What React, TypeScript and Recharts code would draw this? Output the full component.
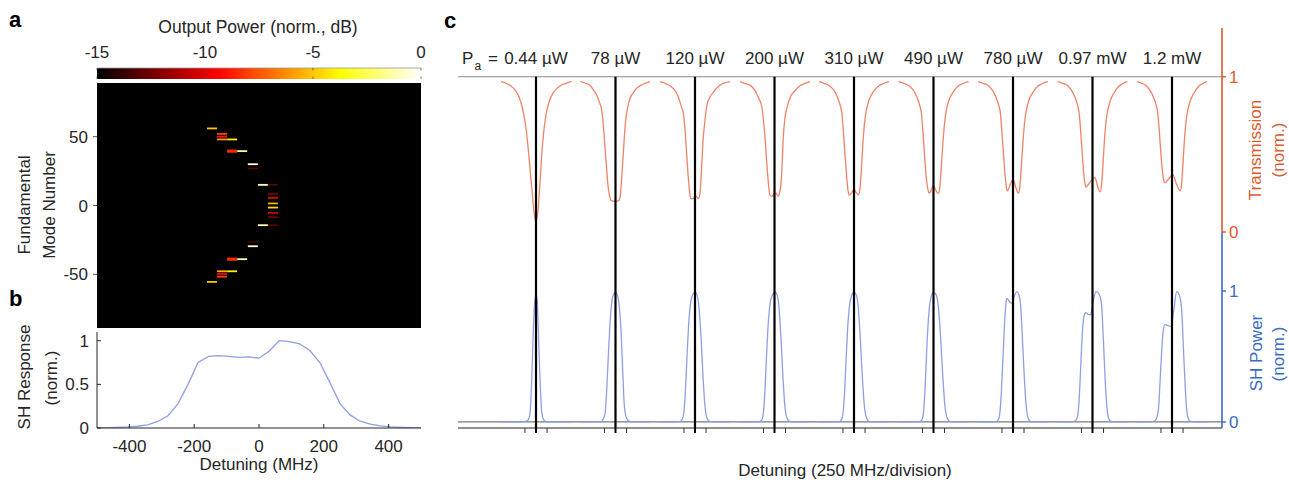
import React from 'react';
import {
  ComposedChart,
  ScatterChart,
  Scatter,
  Line,
  Area,
  XAxis,
  YAxis,
  ReferenceLine,
  CartesianGrid,
} from 'recharts';

type Pair = [number, number];

const FONT = '"Liberation Sans", Arial, Helvetica, sans-serif';
const FS = 17;
const AX = '#262626';
const RED = '#dd5a2e';
const BLUE = '#3b6cc4';
const T_LINE = '#ee8367';
const SH_LINE = '#8e9fe4';

// ---------------- Panel a: colour bar ----------------
const colorbarTicks = [-15, -10, -5, 0];
const colorbarEnds = [-15, 0];
const hotStopsDb = [-15, -9.375, -3.75, 0];

// ---------------- Panel a: heat map cells ----------------
const heatModes = [56, 52, 50, 48, 48, 40, 39, 39.5, 30, 27, 15, 15, 8.5, 5.5, 1.5, -1.5, -5.3, -8.5, -14.3, -14.3, -26.4, -29.6, -38.5, -39.5, -39, -47.8, -47.8, -49.7, -51.7, -55.5];
const heatDetuning = [-145, -114, -114, -114, -83, -83, -83, -52, -19, -19, 12, 43, 43, 43, 43, 43, 43, 43, 12, 43, -19, -19, -83, -83, -52, -114, -83, -114, -114, -145];
const heatPowerDb = [-5, -8, -9, -6, -4, -8.5, -8.5, -1.5, -0.5, -13, -1, -13, -12.5, -10, -5.5, -4.5, -10.5, -12.5, -1, -13, -13.5, -0.5, -8.5, -8.5, -1.5, -5.5, -4, -9.5, -8, -5];
const heatModeTicks = [-50, 0, 50];

// ---------------- Panel b ----------------
const sbDetuning = [-500, -469, -438, -406, -375, -344, -312, -281, -250, -219, -188, -156, -125, -94, -62, -31, 0, 31, 62, 94, 125, 156, 188, 219, 250, 281, 312, 344, 375, 406, 438, 469, 500];
const sbResponse = [0.002, 0.004, 0.008, 0.012, 0.02, 0.035, 0.075, 0.14, 0.28, 0.5, 0.75, 0.82, 0.83, 0.82, 0.81, 0.815, 0.8, 0.88, 1.0, 0.99, 0.965, 0.89, 0.75, 0.52, 0.28, 0.15, 0.078, 0.045, 0.025, 0.014, 0.008, 0.004, 0.002];
const sbDetuningTicks = [-400, -200, 0, 200, 400];
const sbResponseTicks = [0, 0.5, 1];

// ---------------- Panel c ----------------
const powerLabels = ['0.44 µW', '78 µW', '120 µW', '200 µW', '310 µW', '490 µW', '780 µW', '0.97 mW', '1.2 mW'];
const segmentCenters = [0, 1800, 3600, 5400, 7200, 9000, 10800, 12600, 14400];
const divisionOffsets = [-250, 0, 250];
const transTicks = [0, 1];
const shTicks = [0, 1];

// transmission, [detuning offset (MHz), T]
const trans0: Pair[] = [[-792, 0.968], [-680, 0.958], [-566, 0.94], [-475, 0.915], [-385, 0.87], [-317, 0.81], [-272, 0.75], [-226, 0.67], [-181, 0.55], [-136, 0.41], [-91, 0.27], [-45, 0.13], [0, 0.065], [45, 0.14], [91, 0.32], [136, 0.52], [181, 0.66], [226, 0.755], [272, 0.815], [317, 0.855], [385, 0.895], [475, 0.925], [566, 0.945], [680, 0.958], [804, 0.968]];
const trans1: Pair[] = [[-792, 0.968], [-680, 0.958], [-566, 0.942], [-498, 0.914], [-408, 0.87], [-351, 0.825], [-312, 0.785], [-283, 0.71], [-254, 0.61], [-226, 0.5], [-199, 0.4], [-170, 0.3], [-140, 0.24], [-113, 0.21], [-86, 0.2], [0, 0.198], [63, 0.2], [91, 0.21], [118, 0.26], [147, 0.38], [177, 0.506], [204, 0.63], [231, 0.72], [272, 0.8], [328, 0.86], [408, 0.9], [475, 0.925], [611, 0.95], [781, 0.968]];
const trans2: Pair[] = [[-792, 0.968], [-680, 0.958], [-566, 0.942], [-453, 0.91], [-385, 0.875], [-300, 0.8], [-265, 0.77], [-226, 0.66], [-188, 0.5], [-158, 0.37], [-129, 0.28], [-97, 0.215], [-39, 0.215], [16, 0.232], [75, 0.215], [113, 0.245], [147, 0.4], [188, 0.61], [226, 0.72], [265, 0.81], [340, 0.87], [414, 0.9], [566, 0.946], [792, 0.968]];
const trans3: Pair[] = [[-781, 0.968], [-680, 0.958], [-555, 0.946], [-453, 0.915], [-403, 0.89], [-340, 0.85], [-290, 0.81], [-250, 0.72], [-215, 0.61], [-190, 0.5], [-163, 0.4], [-130, 0.29], [-102, 0.237], [-63, 0.23], [-10, 0.245], [34, 0.25], [86, 0.23], [120, 0.26], [147, 0.31], [175, 0.45], [199, 0.61], [240, 0.74], [290, 0.81], [360, 0.87], [464, 0.91], [566, 0.94], [657, 0.953], [804, 0.968]];
const trans4: Pair[] = [[-792, 0.968], [-680, 0.958], [-566, 0.944], [-453, 0.912], [-385, 0.875], [-317, 0.82], [-272, 0.76], [-238, 0.64], [-204, 0.5], [-170, 0.37], [-136, 0.27], [-113, 0.237], [-60, 0.25], [0, 0.275], [55, 0.25], [106, 0.24], [136, 0.28], [170, 0.42], [204, 0.58], [238, 0.7], [283, 0.79], [340, 0.85], [430, 0.9], [555, 0.94], [680, 0.958], [792, 0.968]];
const trans5: Pair[] = [[-792, 0.968], [-680, 0.958], [-566, 0.944], [-453, 0.912], [-385, 0.875], [-317, 0.82], [-272, 0.76], [-238, 0.64], [-204, 0.5], [-170, 0.37], [-130, 0.28], [-95, 0.25], [-50, 0.27], [0, 0.3], [50, 0.27], [109, 0.247], [140, 0.28], [177, 0.42], [215, 0.58], [250, 0.7], [294, 0.79], [351, 0.85], [440, 0.9], [560, 0.94], [680, 0.958], [792, 0.968]];
const trans6: Pair[] = [[-792, 0.968], [-680, 0.958], [-566, 0.944], [-464, 0.912], [-396, 0.875], [-328, 0.82], [-283, 0.76], [-250, 0.64], [-215, 0.5], [-181, 0.37], [-152, 0.29], [-129, 0.265], [-70, 0.3], [7, 0.338], [60, 0.29], [120, 0.25], [152, 0.28], [188, 0.42], [226, 0.58], [260, 0.7], [306, 0.79], [362, 0.85], [453, 0.9], [566, 0.94], [680, 0.958], [792, 0.968]];
const trans7: Pair[] = [[-792, 0.968], [-680, 0.958], [-566, 0.944], [-475, 0.912], [-408, 0.875], [-340, 0.82], [-300, 0.76], [-265, 0.64], [-231, 0.5], [-199, 0.38], [-170, 0.31], [-147, 0.29], [-60, 0.32], [57, 0.35], [110, 0.3], [170, 0.258], [204, 0.3], [240, 0.45], [272, 0.6], [306, 0.71], [351, 0.79], [408, 0.85], [498, 0.9], [600, 0.94], [700, 0.958], [792, 0.968]];
const trans8: Pair[] = [[-792, 0.968], [-690, 0.958], [-590, 0.944], [-498, 0.912], [-430, 0.875], [-362, 0.82], [-320, 0.76], [-285, 0.64], [-250, 0.5], [-215, 0.39], [-185, 0.33], [-158, 0.316], [-80, 0.34], [16, 0.37], [100, 0.31], [181, 0.265], [215, 0.3], [250, 0.45], [283, 0.6], [317, 0.71], [362, 0.79], [420, 0.85], [510, 0.9], [610, 0.94], [710, 0.958], [792, 0.968]];

// SH power, [detuning offset (MHz), P_SH]
const sh0: Pair[] = [[-792, 0], [-272, 0.002], [-181, 0.015], [-136, 0.064], [-97, 0.32], [-61, 0.7], [-23, 0.93], [7, 0.97], [29, 0.92], [52, 0.7], [91, 0.32], [129, 0.08], [170, 0.02], [226, 0.003], [804, 0]];
const sh1: Pair[] = [[-792, 0], [-328, 0.003], [-283, 0.02], [-238, 0.064], [-199, 0.24], [-163, 0.5], [-125, 0.75], [-79, 0.93], [-34, 0.98], [0, 0.99], [41, 0.97], [86, 0.88], [125, 0.7], [163, 0.39], [199, 0.13], [249, 0.03], [328, 0.003], [781, 0]];
const sh2: Pair[] = [[-792, 0], [-340, 0.003], [-290, 0.02], [-250, 0.08], [-215, 0.25], [-181, 0.5], [-136, 0.78], [-75, 0.95], [0, 0.99], [45, 0.97], [91, 0.87], [136, 0.65], [181, 0.35], [226, 0.12], [272, 0.03], [340, 0.003], [792, 0]];
const sh3: Pair[] = [[-792, 0], [-340, 0.003], [-283, 0.02], [-249, 0.08], [-215, 0.25], [-181, 0.5], [-140, 0.76], [-80, 0.94], [11, 0.99], [60, 0.97], [100, 0.88], [145, 0.65], [190, 0.35], [235, 0.12], [283, 0.03], [350, 0.003], [792, 0]];
const sh4: Pair[] = [[-792, 0], [-330, 0.003], [-280, 0.02], [-245, 0.08], [-210, 0.25], [-176, 0.5], [-135, 0.76], [-75, 0.94], [0, 0.99], [52, 0.97], [95, 0.88], [140, 0.65], [188, 0.35], [235, 0.12], [285, 0.03], [350, 0.003], [792, 0]];
const sh5: Pair[] = [[-792, 0], [-310, 0.003], [-260, 0.02], [-225, 0.08], [-192, 0.25], [-160, 0.5], [-120, 0.76], [-65, 0.94], [0, 0.99], [60, 0.97], [110, 0.88], [160, 0.65], [210, 0.35], [260, 0.12], [310, 0.03], [380, 0.003], [792, 0]];
const sh6: Pair[] = [[-792, 0], [-385, 0.003], [-330, 0.02], [-294, 0.08], [-260, 0.25], [-226, 0.5], [-190, 0.76], [-160, 0.9], [-143, 0.944], [-80, 0.92], [-29, 0.906], [30, 0.96], [84, 0.995], [130, 0.975], [170, 0.9], [204, 0.7], [240, 0.45], [272, 0.24], [306, 0.1], [340, 0.03], [400, 0.003], [792, 0]];
const sh7: Pair[] = [[-792, 0], [-430, 0.003], [-362, 0.02], [-317, 0.1], [-283, 0.3], [-250, 0.55], [-215, 0.75], [-170, 0.83], [-147, 0.835], [-90, 0.82], [-41, 0.82], [20, 0.93], [79, 0.995], [130, 0.985], [170, 0.96], [204, 0.9], [250, 0.6], [290, 0.3], [330, 0.1], [362, 0.03], [430, 0.003], [792, 0]];
const sh8: Pair[] = [[-792, 0], [-430, 0.003], [-362, 0.02], [-306, 0.1], [-272, 0.3], [-240, 0.5], [-204, 0.68], [-158, 0.745], [-90, 0.735], [-23, 0.73], [40, 0.85], [106, 0.995], [165, 0.97], [220, 0.85], [260, 0.55], [295, 0.3], [330, 0.1], [365, 0.03], [408, 0.005], [792, 0]];

const transSegments = [trans0, trans1, trans2, trans3, trans4, trans5, trans6, trans7, trans8];
const shSegments = [sh0, sh1, sh2, sh3, sh4, sh5, sh6, sh7, sh8];

// ---------------- derived tables ----------------
function hot(db: number) {
  const t = Math.max(0, Math.min(1, (db + 15) / 15));
  const r = Math.min(1, t / 0.375);
  const g = Math.max(0, Math.min(1, (t - 0.375) / 0.375));
  const b = Math.max(0, Math.min(1, (t - 0.75) / 0.25));
  const h = (v: number) => Math.round(v * 255).toString(16).padStart(2, '0');
  return '#' + h(r) + h(g) + h(b);
}

const heatData = heatModes.map((m, i) => ({ x: heatDetuning[i], y: m, db: heatPowerDb[i] }));
const sbData = sbDetuning.map((d, i) => ({ d, r: sbResponse[i] }));
const cbData = colorbarEnds.map((v) => ({ v, h: 1 }));

function buildSeries(segs: Pair[][], key: string) {
  const out: any[] = [];
  segs.forEach((seg, k) => {
    seg.forEach(([dx, v]) => out.push({ x: segmentCenters[k] + dx, [key]: v }));
    out.push({ x: segmentCenters[k] + 900, [key]: null });
  });
  return out;
}
const transData = buildSeries(transSegments, 't');
const shData = buildSeries(shSegments, 's');
const cTicks: number[] = [];
segmentCenters.forEach((c) => divisionOffsets.forEach((o) => cTicks.push(c + o)));

const C_DOMAIN: [number, number] = [-1766, 15532];
const C_LEFT = 458;
const C_RIGHT = 1222;
const cPix = (v: number) => C_LEFT + ((v - C_DOMAIN[0]) / (C_DOMAIN[1] - C_DOMAIN[0])) * (C_RIGHT - C_LEFT);

// ---------------- custom ticks ----------------
const CbTick = (p: any) => {
  const { x, y, payload } = p;
  const ay = y + 10;
  return (
    <g>
      <line x1={x} x2={x} y1={ay} y2={ay + 2.5} stroke="#555" strokeWidth={0.8} />
      <line x1={x} x2={x} y1={ay + 11} y2={ay + 8.5} stroke="#555" strokeWidth={0.8} />
      <text x={x} y={y} textAnchor="middle" fontSize={FS} fontFamily={FONT} fill={AX}>
        {payload.value}
      </text>
    </g>
  );
};

const BottomTickB = (p: any) => {
  const { x, y, payload } = p;
  const ay = y - 12;
  return (
    <g>
      <line x1={x} x2={x} y1={ay} y2={ay - 4} stroke={AX} strokeWidth={1} />
      <text x={x} y={y} dy="0.71em" textAnchor="middle" fontSize={FS} fontFamily={FONT} fill={AX}>
        {payload.value}
      </text>
    </g>
  );
};

const LeftTickB = (p: any) => {
  const { x, y, payload } = p;
  const ax = x + 8;
  return (
    <g>
      <line x1={ax} x2={ax + 4} y1={y} y2={y} stroke={AX} strokeWidth={1} />
      <text x={x} y={y} dy="0.355em" textAnchor="end" fontSize={FS} fontFamily={FONT} fill={AX}>
        {payload.value}
      </text>
    </g>
  );
};

const DivTick = (p: any) => {
  const { x, y, payload } = p;
  const center = segmentCenters.includes(payload.value);
  return <line x1={x} x2={x} y1={y} y2={y + 5} stroke={center ? '#000' : '#333'} strokeWidth={center ? 2 : 1} />;
};

const HeatCell = (props: any) => {
  const { cx, cy, payload } = props;
  if (cx == null || cy == null) return null;
  return <rect x={cx - 5} y={cy - 0.9} width={10} height={1.8} fill={hot(payload.db)} />;
};

const abs = (left: number, top: number): React.CSSProperties => ({ position: 'absolute', left, top });

export default function App() {
  return (
    <div style={{ position: 'absolute', left: 0, top: 0, width: 1289, height: 483, background: '#fff', overflow: 'hidden', fontFamily: FONT }}>
      {/* colour bar */}
      <div style={abs(72, 35)}>
        <ComposedChart width={374} height={48} data={cbData} margin={{ top: 3, right: 25, bottom: 4, left: 25 }}>
          <defs>
            <linearGradient id="hotGrad" x1="0" y1="0" x2="1" y2="0">
              {hotStopsDb.map((db) => (
                <stop key={db} offset={`${((db + 15) / 15) * 100}%`} stopColor={hot(db)} />
              ))}
            </linearGradient>
          </defs>
          <XAxis orientation="top" type="number" dataKey="v" domain={[-15, 0]} ticks={colorbarTicks} height={30} tickLine={false} tickSize={0} tickMargin={10} axisLine={{ stroke: '#9a9a9a', strokeWidth: 0.8 }} tick={CbTick} interval={0} />
          <XAxis xAxisId="cbb" orientation="bottom" type="number" dataKey="v" domain={[-15, 0]} height={0} tick={false} tickLine={false} axisLine={{ stroke: '#9a9a9a', strokeWidth: 0.8 }} />
          <YAxis type="number" domain={[0, 1]} width={0} tick={false} tickLine={false} axisLine={{ stroke: '#9a9a9a', strokeWidth: 0.8 }} />
          <YAxis yAxisId="cbr" orientation="right" type="number" domain={[0, 1]} width={0} tick={false} tickLine={false} axisLine={{ stroke: '#9a9a9a', strokeWidth: 0.8 }} />
          <Area type="linear" dataKey="h" fill="url(#hotGrad)" fillOpacity={1} stroke="none" isAnimationActive={false} />
        </ComposedChart>
      </div>

      {/* heat map */}
      <div style={abs(47, 78)}>
        <ScatterChart width={382} height={252} margin={{ top: 5, right: 8, bottom: 2, left: 0 }}>
          <CartesianGrid fill="#000" fillOpacity={1} stroke="none" horizontal={false} vertical={false} />
          <XAxis type="number" dataKey="x" domain={[-500, 500]} hide allowDataOverflow />
          <YAxis type="number" dataKey="y" domain={[-89, 89]} ticks={heatModeTicks} width={50} tickSize={4} tickMargin={5} axisLine={false} tickLine={{ stroke: '#555' }} tick={{ fontSize: FS, fill: AX, fontFamily: FONT }} interval={0} allowDataOverflow />
          <Scatter data={heatData} shape={HeatCell} isAnimationActive={false} />
        </ScatterChart>
      </div>

      {/* panel b */}
      <div style={abs(47, 327)}>
        <ComposedChart width={382} height={136} data={sbData} margin={{ top: 5, right: 8, bottom: 4, left: 0 }}>
          <XAxis type="number" dataKey="d" domain={[-500, 500]} ticks={sbDetuningTicks} height={31} tickLine={false} tickSize={0} tickMargin={12} axisLine={{ stroke: AX }} tick={BottomTickB} interval={0} allowDataOverflow />
          <XAxis xAxisId="top" orientation="top" type="number" domain={[-500, 500]} ticks={sbDetuningTicks} height={0} mirror tick={false} tickSize={4} axisLine={{ stroke: AX }} tickLine={{ stroke: AX }} interval={0} allowDataOverflow />
          <YAxis type="number" domain={[0, 1.1]} ticks={sbResponseTicks} width={50} tickLine={false} tickSize={0} tickMargin={8} axisLine={{ stroke: AX }} tick={LeftTickB} interval={0} allowDataOverflow />
          <YAxis yAxisId="right" orientation="right" type="number" domain={[0, 1.1]} ticks={sbResponseTicks} width={0} mirror tick={false} tickSize={4} axisLine={{ stroke: AX }} tickLine={{ stroke: AX }} interval={0} allowDataOverflow />
          <Line type="linear" dataKey="r" stroke={SH_LINE} strokeWidth={1.3} dot={false} isAnimationActive={false} />
        </ComposedChart>
      </div>

      {/* panel c: transmission */}
      <div style={abs(448, 18)}>
        <ComposedChart width={809} height={226} data={transData} margin={{ top: 10, right: 5, bottom: 12, left: 10 }}>
          <XAxis type="number" dataKey="x" domain={C_DOMAIN} hide allowDataOverflow />
          <YAxis orientation="right" type="number" domain={[0, 1.314]} ticks={transTicks} width={30} axisLine={{ stroke: RED, strokeWidth: 1.6 }} tickLine={{ stroke: RED, strokeWidth: 1.4 }} tickSize={4} tickMargin={3} tick={{ fill: RED, fontSize: FS, fontFamily: FONT }} interval={0} allowDataOverflow />
          <ReferenceLine y={1} stroke="#8a8a8a" strokeWidth={1.2} />
          <Line type="monotone" dataKey="t" stroke={T_LINE} strokeWidth={1.3} dot={false} connectNulls={false} isAnimationActive={false} />
          {segmentCenters.map((c) => (
            <ReferenceLine key={c} segment={[{ x: c, y: 0 }, { x: c, y: 1 }]} stroke="#000" strokeWidth={2.2} />
          ))}
        </ComposedChart>
      </div>

      {/* panel c: SH power */}
      <div style={abs(448, 222)}>
        <ComposedChart width={809} height={220} data={shData} margin={{ top: 10, right: 5, bottom: 6, left: 10 }}>
          <XAxis type="number" dataKey="x" domain={C_DOMAIN} ticks={cTicks} height={8} tickLine={false} tickSize={0} tickMargin={0} axisLine={{ stroke: '#222', strokeWidth: 1.2 }} tick={DivTick} interval={0} allowDataOverflow />
          <YAxis orientation="right" type="number" domain={[-0.046, 1.45]} ticks={shTicks} width={30} axisLine={{ stroke: BLUE, strokeWidth: 1.6 }} tickLine={{ stroke: BLUE, strokeWidth: 1.4 }} tickSize={4} tickMargin={3} tick={{ fill: BLUE, fontSize: FS, fontFamily: FONT }} interval={0} allowDataOverflow />
          <ReferenceLine y={0} stroke="#7a7a7a" strokeWidth={1.2} />
          <Line type="monotone" dataKey="s" stroke={SH_LINE} strokeWidth={1.3} dot={false} connectNulls={false} isAnimationActive={false} />
          {segmentCenters.map((c) => (
            <ReferenceLine key={c} x={c} stroke="#000" strokeWidth={2.2} />
          ))}
        </ComposedChart>
      </div>

      {/* text overlay */}
      <svg width={1289} height={483} style={{ position: 'absolute', left: 0, top: 0, pointerEvents: 'none' }} fontFamily={FONT}>
        <text x={9} y={27} fontSize={22} fontWeight={700} fill="#000">a</text>
        <text x={9} y={306} fontSize={22} fontWeight={700} fill="#000">b</text>
        <text x={444} y={28} fontSize={22} fontWeight={700} fill="#000">c</text>

        <text x={258} y={33} fontSize={17.5} textAnchor="middle" fill={AX}>Output Power (norm., dB)</text>
        <text transform="translate(30,205) rotate(-90)" fontSize={FS} textAnchor="middle" fill={AX}>Fundamental</text>
        <text transform="translate(55,205) rotate(-90)" fontSize={FS} textAnchor="middle" fill={AX}>Mode Number</text>
        <text transform="translate(30,377) rotate(-90)" fontSize={FS} textAnchor="middle" fill={AX}>SH Response</text>
        <text transform="translate(56.5,378) rotate(-90)" fontSize={FS} textAnchor="middle" fill={AX}>(norm.)</text>
        <text x={259} y={470} fontSize={FS} textAnchor="middle" fill={AX}>Detuning (MHz)</text>

        <text x={845} y={476} fontSize={FS} textAnchor="middle" fill={AX}>Detuning (250 MHz/division)</text>
        <text transform="translate(1261,150) rotate(-90)" fontSize={FS} textAnchor="middle" fill={RED}>Transmission</text>
        <text transform="translate(1284,150) rotate(-90)" fontSize={FS} textAnchor="middle" fill={RED}>(norm.)</text>
        <text transform="translate(1262,353) rotate(-90)" fontSize={FS} textAnchor="middle" fill={BLUE}>SH Power</text>
        <text transform="translate(1284,354) rotate(-90)" fontSize={FS} textAnchor="middle" fill={BLUE}>(norm.)</text>

        <text x={462} y={64} fontSize={FS} fill={AX}>P</text>
        <text x={474.5} y={70} fontSize={12} fill={AX}>a</text>
        <text x={488} y={64} fontSize={FS} fill={AX}>=</text>
        {powerLabels.map((lab, k) => (
          <text key={lab} x={cPix(segmentCenters[k])} y={64} fontSize={FS} textAnchor="middle" fill={AX}>
            {lab}
          </text>
        ))}
      </svg>
    </div>
  );
}
